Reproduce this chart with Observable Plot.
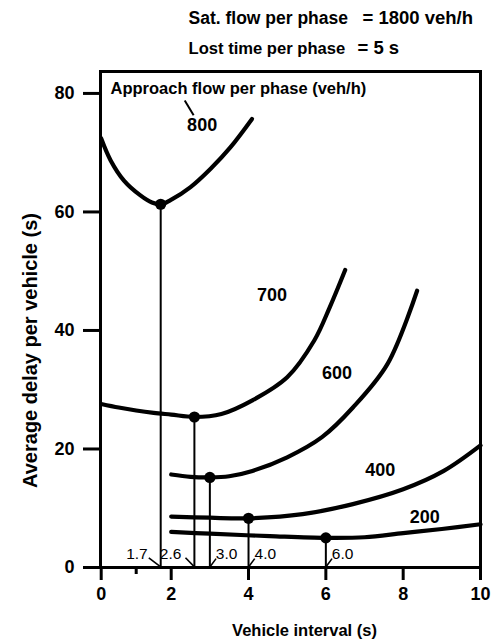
<!DOCTYPE html>
<html><head><meta charset="utf-8">
<script src="https://cdn.jsdelivr.net/npm/d3@7"></script>
<script src="https://cdn.jsdelivr.net/npm/@observablehq/plot@0.6"></script>
<style>body{margin:0;background:#fff}</style>
</head><body><div id="chart"></div>
<script>
// ---- data ----
const flows = ["800", "700", "600", "400", "200"];
const interval800 = [0, 0.27, 0.65, 1.12, 1.45, 1.7, 1.98, 2.5, 3.02, 3.53, 4.09];
const delay800    = [72.4, 68.7, 65.3, 62.8, 61.6, 61.3, 62.0, 64.2, 67.3, 70.9, 75.7];
const interval700 = [0, 0.5, 1.0, 1.5, 2.0, 2.6, 3.3, 4.1, 5.0, 5.7, 6.1, 6.5];
const delay700    = [27.6, 27.0, 26.5, 26.1, 25.8, 25.4, 25.9, 28.2, 32.1, 38.3, 43.9, 50.2];
const interval600 = [2.0, 2.5, 3.0, 3.5, 4.1, 5.0, 5.9, 6.7, 7.6, 8.36];
const delay600    = [15.7, 15.3, 15.2, 15.4, 16.3, 18.6, 22.0, 27.0, 34.4, 46.7];
const interval400 = [2.0, 3.0, 4.0, 5.4, 6.7, 8.0, 9.05, 10];
const delay400    = [8.6, 8.4, 8.3, 9.0, 10.7, 13.2, 16.3, 20.6];
const interval200 = [2.0, 3.0, 4.55, 6.0, 7.0, 8.0, 9.0, 10];
const delay200    = [6.0, 5.7, 5.3, 5.0, 5.1, 5.8, 6.5, 7.3];

const optimumInterval = [1.7, 2.6, 3.0, 4.0, 6.0];
const optimumDelay    = [61.3, 25.4, 15.2, 8.3, 5.0];
const optimumLabels   = ["1.7", "2.6", "3.0", "4.0", "6.0"];

const xTicks = [0, 2, 4, 6, 8, 10];
const xMinorTicks = [1];
const yTicks = [0, 20, 40, 60, 80];

const headerLabels = ["Sat. flow per phase", "Lost time per phase"];
const headerValues = ["= 1800 veh/h", "= 5 s"];
const legendTitle = "Approach flow per phase (veh/h)";
const xTitle = "Vehicle interval (s)";
const yTitle = "Average delay per vehicle (s)";

// ---- build tables ----
const intervals = [interval800, interval700, interval600, interval400, interval200];
const delays = [delay800, delay700, delay600, delay400, delay200];
const curves = flows.flatMap((f, i) => intervals[i].map((x, j) => ({flow: f, x, y: delays[i][j]})));
const optimum = optimumInterval.map((x, i) => ({x, y: optimumDelay[i], label: optimumLabels[i], left: i < 2}));

// curve label anchors (data coordinates)
const curveLabelX = [2.8, 4.61, 6.29, 7.41, 8.56];
const curveLabelY = [74.6, 45.9, 32.7, 16.45, 8.45];
const curveLabels = flows.map((f, i) => ({label: f, x: curveLabelX[i], y: curveLabelY[i]}));

const font = "'Liberation Sans', Arial, Helvetica, sans-serif";

const chart = Plot.plot({
  width: 492,
  height: 641,
  marginTop: 71,
  marginBottom: 74,
  marginLeft: 100,
  marginRight: 12,
  x: {type: "linear", domain: [0, 2, 10], range: [100.7, 170.7, 480]},
  y: {domain: [0, 83.7]},
  style: {fontFamily: font, fontWeight: "bold", color: "black", background: "white", overflow: "visible"},
  marks: [
    Plot.frame({stroke: "black", strokeWidth: 3}),
    Plot.axisY({ticks: yTicks, tickSize: 17, tickPadding: 9, strokeWidth: 3, fontSize: 18, fontWeight: "bold", label: null}),
    Plot.axisX({ticks: xTicks, tickSize: 13, tickPadding: 7, strokeWidth: 3, fontSize: 18, fontWeight: "bold", label: null}),
    Plot.axisX({ticks: xMinorTicks, tickSize: 7, strokeWidth: 3, tickFormat: () => "", label: null}),
    // drop lines
    Plot.ruleX(optimum, {x: "x", y1: 0, y2: "y", stroke: "black", strokeWidth: 2}),
    // curves
    Plot.line(curves, {x: "x", y: "y", z: "flow", curve: "catmull-rom", stroke: "black", strokeWidth: 4.2, strokeLinecap: "round"}),
    Plot.dot(optimum, {x: "x", y: "y", r: 5.6, fill: "black"}),
    // small interval labels with leaders
    Plot.text(optimum.filter(d => d.left), {x: "x", y: 2.25, text: "label", textAnchor: "end", dx: -13, fontSize: 15.5, fontWeight: "normal"}),
    Plot.text(optimum.filter(d => !d.left), {x: "x", y: 2.25, text: "label", textAnchor: "start", dx: 6, fontSize: 15.5, fontWeight: "normal"}),
    Plot.link(optimum, {x1: d => d.left ? d.x - (d.x < 2 ? 0.34 : 0.23) : d.x + 0.16, y1: d => d.left ? 1.64 : 1.5, x2: "x", y2: 0.1, stroke: "black", strokeWidth: 1.6}),
    // curve labels
    Plot.text(curveLabels, {x: "x", y: "y", text: "label", fontSize: 18, fontWeight: "bold"}),
    Plot.link([{x1: 2.35, y1: 78.8, x2: 2.58, y2: 76.3}], {x1: "x1", y1: "y1", x2: "x2", y2: "y2", stroke: "black", strokeWidth: 2}),
    // legend title
    Plot.text([legendTitle], {frameAnchor: "top-left", lineAnchor: "middle", dx: 10, dy: 17, textAnchor: "start", fontSize: 16.5, fontWeight: "bold"}),
    // header
    Plot.text([headerLabels[0]], {frameAnchor: "top-left", lineAnchor: "middle", dx: 88, dy: -53, textAnchor: "start", fontSize: 17.5, fontWeight: "bold"}),
    Plot.text([headerValues[0]], {frameAnchor: "top-left", lineAnchor: "middle", dx: 262, dy: -53, textAnchor: "start", fontSize: 18.5, fontWeight: "bold"}),
    Plot.text([headerLabels[1]], {frameAnchor: "top-left", lineAnchor: "middle", dx: 88, dy: -23, textAnchor: "start", fontSize: 16.6, fontWeight: "bold"}),
    Plot.text([headerValues[1]], {frameAnchor: "top-left", lineAnchor: "middle", dx: 257, dy: -23, textAnchor: "start", fontSize: 18.5, fontWeight: "bold"}),
    // axis titles
    Plot.text([xTitle], {frameAnchor: "bottom", lineAnchor: "middle", textAnchor: "middle", dx: 14, dy: 63, fontSize: 16.5, fontWeight: "bold"}),
    Plot.text([yTitle], {frameAnchor: "left", lineAnchor: "middle", textAnchor: "middle", dx: -70, dy: 31, rotate: -90, fontSize: 20, fontWeight: "bold"})
  ]
});
document.getElementById("chart").append(chart);
</script>
</body></html>
